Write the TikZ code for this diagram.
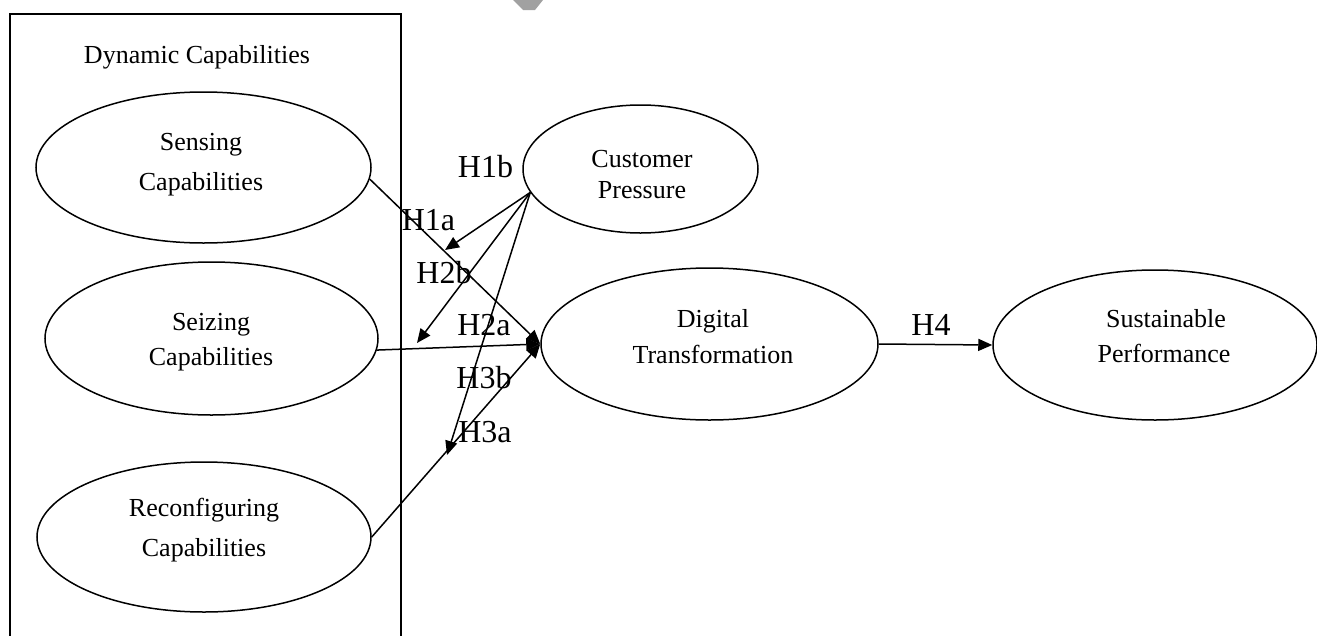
\documentclass[tikz,border=0pt]{standalone}
\usepackage{fontspec}
\setmainfont{Liberation Serif}
\usetikzlibrary{shapes.geometric,arrows.meta}
\begin{document}
\begin{tikzpicture}[x=1pt,y=-1pt,
  ell/.style={draw, ellipse, line width=1.5pt, inner sep=0pt},
  txt/.style={anchor=base, inner sep=0pt, font=\fontsize{26}{30}\selectfont},
  hyp/.style={anchor=base, inner sep=0pt, font=\fontsize{32}{36}\selectfont},
  arr/.style={line width=1.5pt, -{Triangle[length=14pt,width=12pt]}},
]
\useasboundingbox (0,0) rectangle (1317,635);
% grey fragment at top
\fill[gray!95!black!70] (513,0) -- (543,0) -- (535,10) -- (523,10) -- cycle;
% group box
\draw[line width=1.5pt] (10,645) -- (10,14) -- (401,14) -- (401,645);
\node[txt] (dynT) at (197,63) {Dynamic Capabilities};
% ellipses
\node[ell, minimum width=335, minimum height=151] (sens) at (203.5,167.5) {};
\node[ell, minimum width=333, minimum height=153] (seiz) at (211.5,338.5) {};
\node[ell, minimum width=334, minimum height=150] (reconf) at (204,537) {};
\node[ell, minimum width=235, minimum height=128] (cust) at (640.5,169) {};
\node[ell, minimum width=337, minimum height=152] (dt) at (709.5,344) {};
\node[ell, minimum width=324, minimum height=150] (sust) at (1155,345) {};
% ellipse texts
\node[txt] (sensA) at (201,150) {Sensing};
\node[txt] (sensB) at (201,190) {Capabilities};
\node[txt] (seizA) at (211,330) {Seizing};
\node[txt] (seizB) at (211,365) {Capabilities};
\node[txt] (recA) at (204,516) {Reconfiguring};
\node[txt] (recB) at (204,556) {Capabilities};
\node[txt] (custA) at (642,167) {Customer};
\node[txt] (custB) at (642,198) {Pressure};
\node[txt] (dtA) at (713,327) {Digital};
\node[txt] (dtB) at (713,363) {Transformation};
\node[txt] (sustA) at (1166,327) {Sustainable};
\node[txt] (sustB) at (1164,362) {Performance};
% arrows
\draw[arr] (sens.-4) -- (dt.west);
\draw[arr] (seiz.-4) -- (dt.west);
\draw[arr] (reconf.east) -- (dt.west);
\draw[arr] (dt.east) -- (sust.west);
\coordinate (e1) at (445,250);
\coordinate (e2) at (417,343);
\coordinate (e3) at (447,455);
\draw[arr] (cust.192) -- (e1);
\draw[arr] (cust.192) -- (e2);
\draw[arr] (cust.192) -- (e3);
% hypothesis labels
\node[hyp] (h1b) at (485.5,177) {H1b};
\node[hyp] (h1a) at (428.5,230) {H1a};
\node[hyp] (h2b) at (444,283) {H2b};
\node[hyp] (h2a) at (484,335) {H2a};
\node[hyp] (h3b) at (484,388) {H3b};
\node[hyp] (h3a) at (485,442) {H3a};
\node[hyp] (h4) at (931,335) {H4};
\end{tikzpicture}
\end{document}
